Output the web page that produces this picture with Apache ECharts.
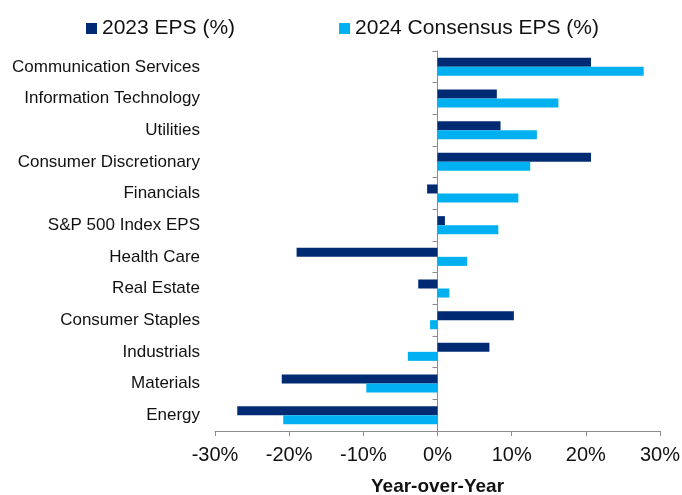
<!DOCTYPE html>
<html>
<head>
<meta charset="utf-8">
<script src="https://cdn.jsdelivr.net/npm/echarts@6/dist/echarts.min.js"></script>
<style>
  html, body { margin: 0; padding: 0; background: #fff; }
  #chart { width: 682px; height: 495px; }
</style>
</head>
<body>
<div id="chart"></div>
<script>
// Sectors, listed top to bottom
const sectors = [
  'Communication Services', 'Information Technology', 'Utilities',
  'Consumer Discretionary', 'Financials', 'S&P 500 Index EPS',
  'Health Care', 'Real Estate', 'Consumer Staples', 'Industrials',
  'Materials', 'Energy'
];
// Year-over-year EPS growth, percent
const eps2023 = [20.7, 8.0, 8.5, 20.7, -1.4, 1.0, -19.0, -2.6, 10.3, 7.0, -21.0, -27.0];
const eps2024Consensus = [27.8, 16.3, 13.4, 12.5, 10.9, 8.2, 4.0, 1.6, -1.0, -4.0, -9.6, -20.8];
const xTicks = { min: -30, max: 30, step: 10 };

const FONT = '"Liberation Sans", Arial, sans-serif';
const AXIS_GREY = '#8c8c8c';

const chart = echarts.init(document.getElementById('chart'), null, { renderer: 'canvas' });
chart.setOption({
  animation: false,
  textStyle: { fontFamily: FONT, color: '#111' },
  legend: {
    left: 81,
    top: 13,
    itemWidth: 11,
    itemHeight: 11,
    itemGap: 104,
    icon: 'rect',
    textStyle: { fontFamily: FONT, fontSize: 21, color: '#111' },
    data: ['2023 EPS (%)', '2024 Consensus EPS (%)']
  },
  grid: { left: 215, right: 22, top: 51, bottom: 64, containLabel: false, outerBoundsMode: 'none' },
  xAxis: {
    type: 'value',
    min: xTicks.min,
    max: xTicks.max,
    interval: xTicks.step,
    splitLine: { show: false },
    axisLine: { show: true, onZero: false, lineStyle: { color: AXIS_GREY, width: 1 } },
    axisTick: { show: true, length: 5, lineStyle: { color: AXIS_GREY } },
    axisLabel: {
      formatter: '{value}%', fontSize: 20, color: '#111', fontFamily: FONT, margin: 14
    },
    name: 'Year-over-Year',
    nameLocation: 'middle',
    nameGap: 46,
    nameTextStyle: { fontSize: 19, fontWeight: 'bold', color: '#111', fontFamily: FONT }
  },
  yAxis: [
    {
      // sector names, set against the left edge of the plot
      type: 'category',
      inverse: true,
      data: sectors,
      position: 'left',
      axisLine: { show: false, onZero: false },
      axisTick: { show: false },
      axisLabel: { fontSize: 17, color: '#111', fontFamily: FONT, margin: 15, align: 'right' },
      splitLine: { show: false }
    },
    {
      // vertical axis line with ticks, drawn at 0%
      type: 'category',
      inverse: true,
      data: sectors,
      position: 'left',
      axisLine: { show: true, onZero: true, lineStyle: { color: AXIS_GREY, width: 1 } },
      axisTick: { show: true, length: 5, lineStyle: { color: AXIS_GREY } },
      axisLabel: { show: false },
      splitLine: { show: false }
    }
  ],
  series: [
    {
      name: '2023 EPS (%)',
      type: 'bar',
      data: eps2023,
      barGap: '0%',
      barCategoryGap: '43%',
      itemStyle: { color: '#002B73' }
    },
    {
      name: '2024 Consensus EPS (%)',
      type: 'bar',
      data: eps2024Consensus,
      barGap: '0%',
      barCategoryGap: '43%',
      itemStyle: { color: '#00B0F0' }
    }
  ]
});
</script>
</body>
</html>
